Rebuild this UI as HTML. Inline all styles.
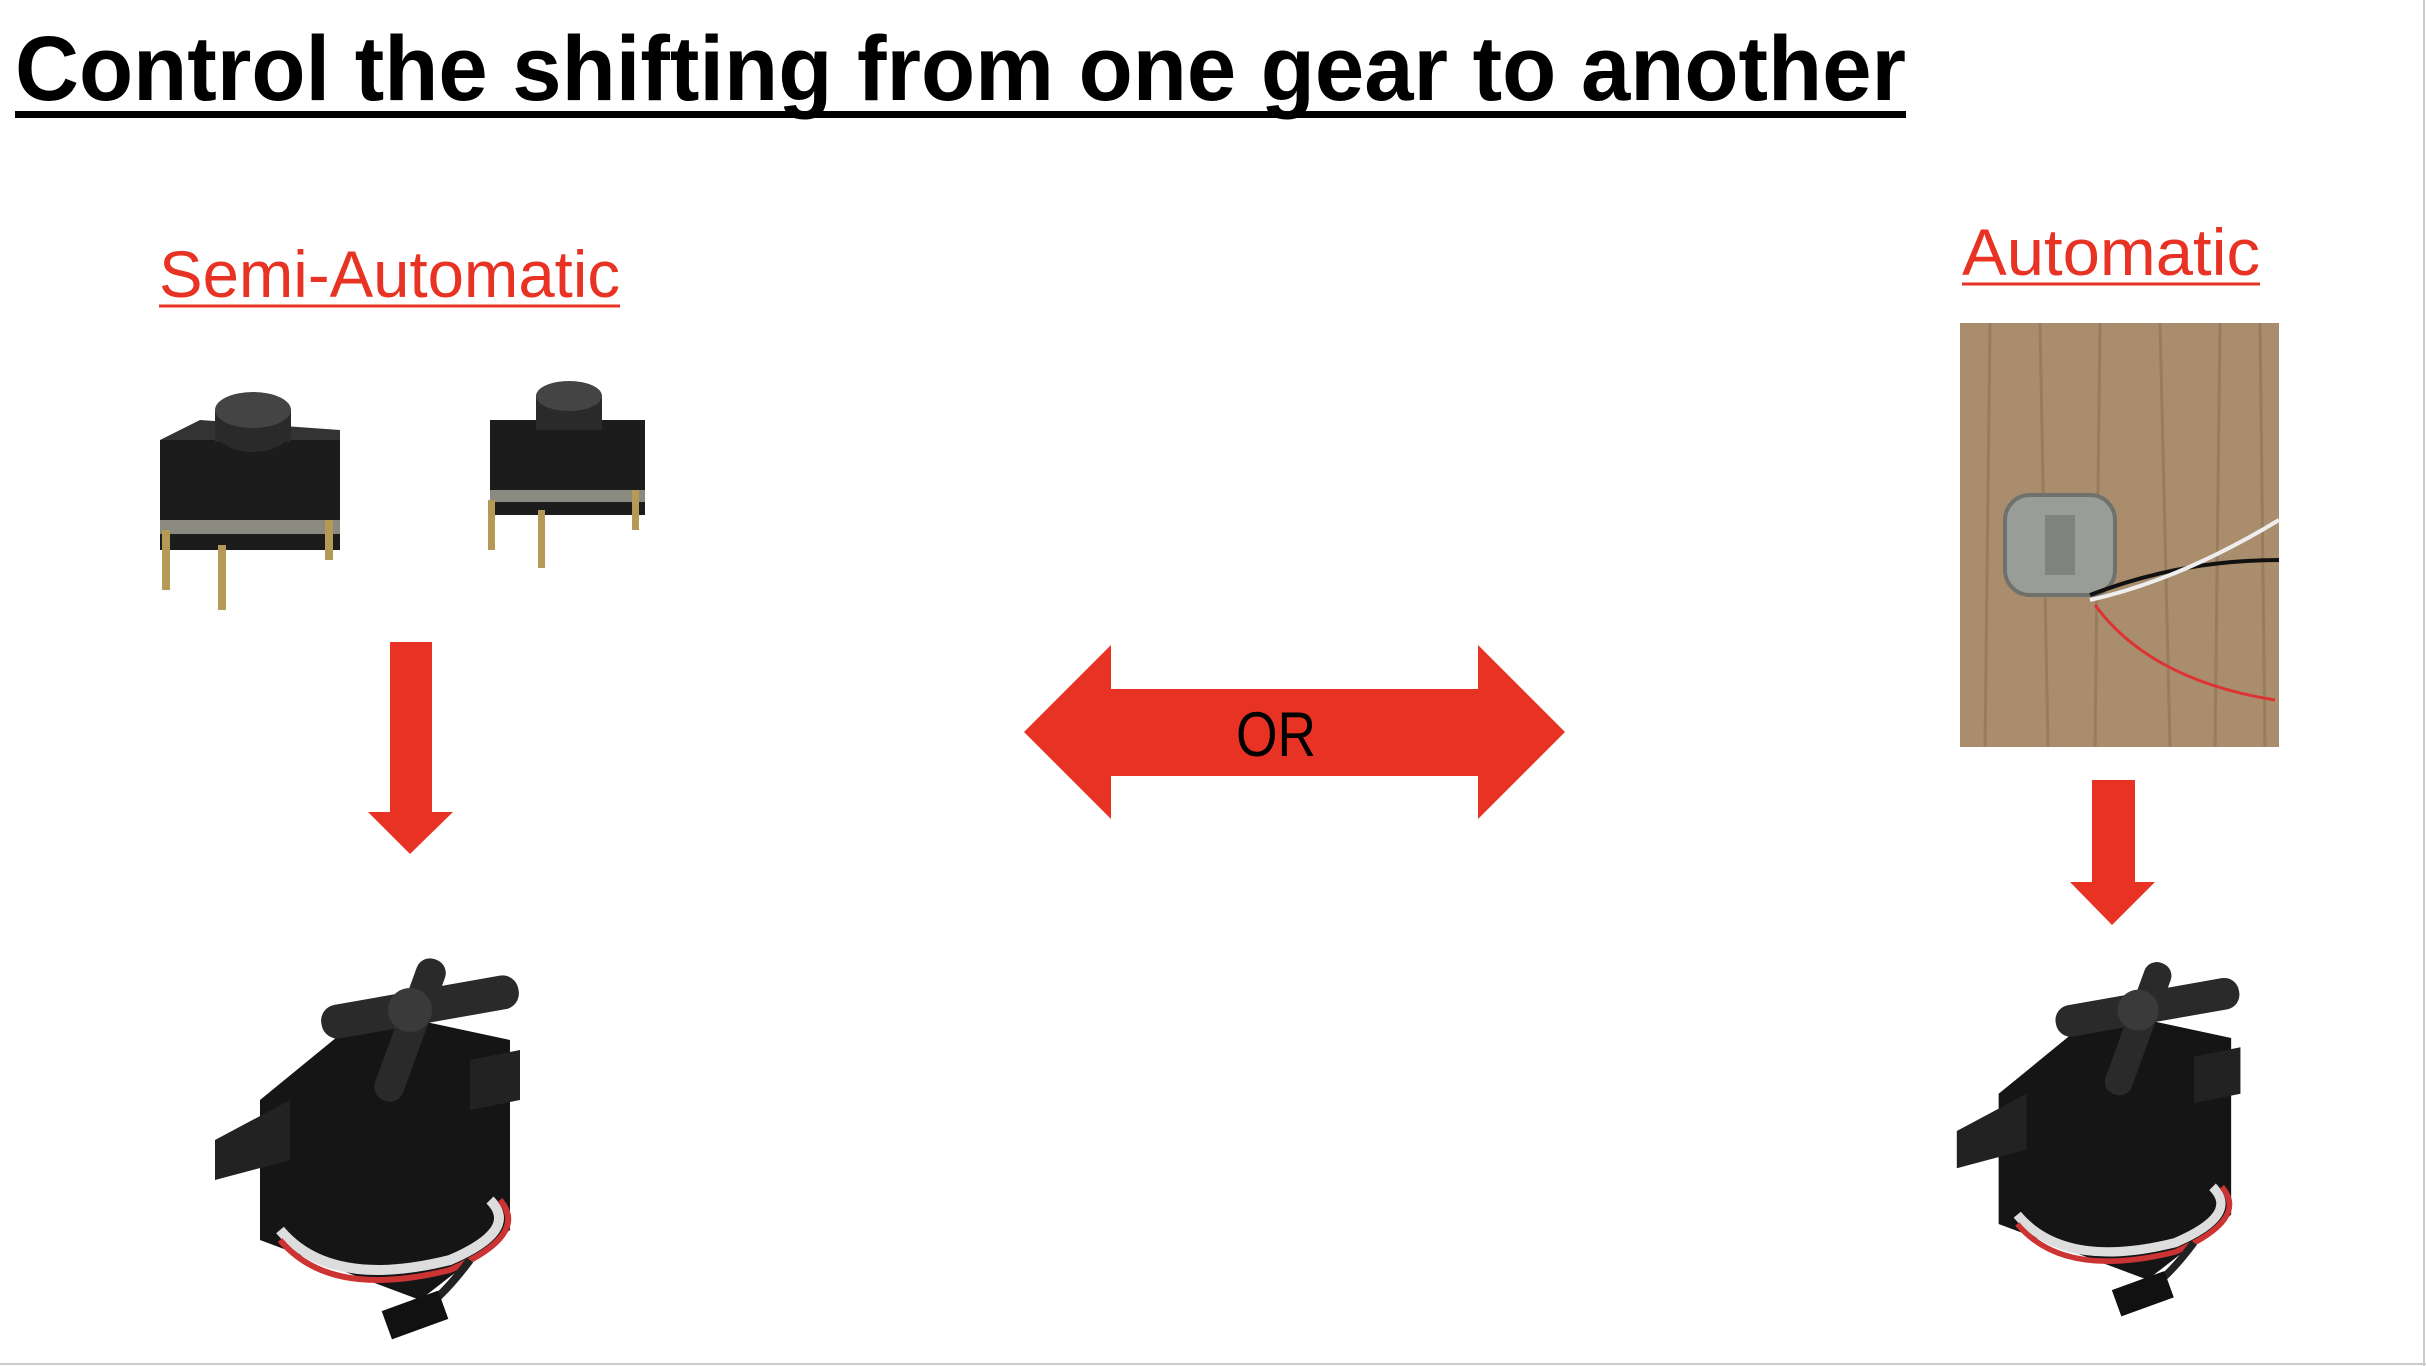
<!DOCTYPE html>
<html><head><meta charset="utf-8"><style>html,body{margin:0;padding:0;background:#fff}svg{display:block}</style></head>
<body>
<svg width="2426" height="1366" viewBox="0 0 2426 1366" xmlns="http://www.w3.org/2000/svg" font-family="'Liberation Sans', sans-serif">
<rect width="2426" height="1366" fill="#fff"/>
<line x1="2424" y1="0" x2="2424" y2="1366" stroke="#ccc" stroke-width="2"/>
<line x1="0" y1="1364" x2="2426" y2="1364" stroke="#ccc" stroke-width="2"/>
<text x="15" y="100" font-size="92" font-weight="bold" textLength="1891" lengthAdjust="spacingAndGlyphs">Control the shifting from one gear to another</text>
<rect x="15" y="111" width="1891" height="7" fill="#000"/>
<text x="159" y="297" font-size="66" fill="#e83324" textLength="461" lengthAdjust="spacingAndGlyphs">Semi-Automatic</text>
<line x1="159" y1="306" x2="620" y2="306" stroke="#e83324" stroke-width="3"/>
<text x="1962" y="275" font-size="66" fill="#e83324" textLength="298" lengthAdjust="spacingAndGlyphs">Automatic</text>
<line x1="1962" y1="284" x2="2260" y2="284" stroke="#e83324" stroke-width="3"/>
<!-- double arrow -->
<polygon points="1024,732 1111,645 1111,689 1478,689 1478,645 1565,732 1478,819 1478,776 1111,776 1111,819" fill="#e83324"/>
<text x="1236" y="756" font-size="63" fill="#000" textLength="80" lengthAdjust="spacingAndGlyphs">OR</text>
<!-- down arrows -->
<polygon points="390,642 432,642 432,812 453,812 410,854 368,812 390,812" fill="#e83324"/>
<polygon points="2092,780 2135,780 2135,882 2155,882 2112,925 2070,882 2092,882" fill="#e83324"/>
<!-- buttons -->
<g>
<rect x="160" y="440" width="180" height="110" fill="#1c1c1c"/>
<polygon points="160,440 200,420 340,430 340,440" fill="#333"/>
<rect x="160" y="520" width="180" height="14" fill="#8a8a80"/>
<ellipse cx="253" cy="430" rx="38" ry="22" fill="#2a2a2a"/>
<rect x="215" y="410" width="76" height="32" fill="#2a2a2a"/>
<ellipse cx="253" cy="410" rx="38" ry="18" fill="#444"/>
<rect x="162" y="530" width="8" height="60" fill="#b49a55"/>
<rect x="218" y="545" width="8" height="65" fill="#b49a55"/>
<rect x="325" y="520" width="8" height="40" fill="#b49a55"/>
</g>
<g>
<rect x="490" y="420" width="155" height="95" fill="#1c1c1c"/>
<rect x="490" y="490" width="155" height="12" fill="#8a8a80"/>
<rect x="536" y="396" width="66" height="34" fill="#2a2a2a"/>
<ellipse cx="569" cy="396" rx="33" ry="15" fill="#444"/>
<rect x="488" y="500" width="7" height="50" fill="#b49a55"/>
<rect x="538" y="510" width="7" height="58" fill="#b49a55"/>
<rect x="632" y="490" width="7" height="40" fill="#b49a55"/>
</g>
<!-- load cell photo -->
<rect x="1960" y="323" width="319" height="424" fill="#a98d6d"/>
<g stroke="#8d7255" stroke-width="3" opacity="0.6">
<line x1="1990" y1="323" x2="1985" y2="747"/><line x1="2040" y1="323" x2="2048" y2="747"/><line x1="2100" y1="323" x2="2095" y2="747"/><line x1="2160" y1="323" x2="2170" y2="747"/><line x1="2220" y1="323" x2="2215" y2="747"/><line x1="2260" y1="323" x2="2265" y2="747"/>
</g>
<rect x="2005" y="495" width="110" height="100" rx="25" fill="#9a9c98" stroke="#6f716d" stroke-width="4"/>
<rect x="2045" y="515" width="30" height="60" fill="#80827e"/>
<path d="M2090 595 Q2180 560 2279 560" stroke="#111" stroke-width="4" fill="none"/>
<path d="M2090 600 Q2180 580 2279 520" stroke="#eee" stroke-width="4" fill="none"/>
<path d="M2095 605 Q2150 680 2275 700" stroke="#d33" stroke-width="3" fill="none"/>
<!-- servos -->
<g id="servo">
<polygon points="260,1100 370,1010 510,1040 510,1230 420,1300 260,1240" fill="#151515"/>
<polygon points="215,1140 290,1100 290,1160 215,1180" fill="#222"/>
<polygon points="470,1060 520,1050 520,1100 470,1110" fill="#222"/>
<rect x="395" y="955" width="30" height="150" rx="14" fill="#2a2a2a" transform="rotate(20 410 1030)"/>
<rect x="320" y="990" width="200" height="34" rx="16" fill="#2a2a2a" transform="rotate(-10 420 1007)"/>
<circle cx="410" cy="1010" r="22" fill="#3a3a3a"/>
<path d="M280 1230 Q330 1290 450 1260 Q520 1230 490 1200" stroke="#ddd" stroke-width="10" fill="none"/>
<path d="M280 1240 Q330 1300 450 1270 Q530 1235 500 1200" stroke="#c33" stroke-width="6" fill="none"/>
<path d="M470 1260 Q440 1300 420 1310" stroke="#222" stroke-width="8" fill="none"/>
<rect x="385" y="1300" width="60" height="30" fill="#111" transform="rotate(-20 415 1315)"/>
</g>
<use href="#servo" transform="translate(1715 15) scale(0.93) translate(45 60)"/>
</svg>
</body></html>
